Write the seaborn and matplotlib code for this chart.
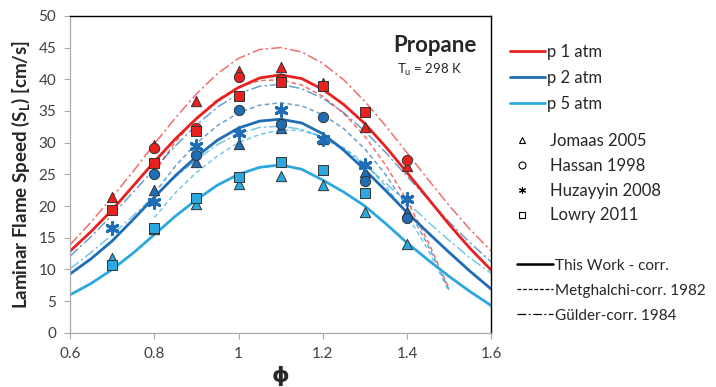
import numpy as np
import pandas as pd
import matplotlib
matplotlib.use("Agg")
import matplotlib.pyplot as plt
from matplotlib.lines import Line2D
import seaborn as sns

# --- data ---
phi_curve = [0.60, 0.65, 0.70, 0.75, 0.80, 0.85, 0.90, 0.95, 1.00, 1.05, 1.10,
             1.15, 1.20, 1.25, 1.30, 1.35, 1.40, 1.45, 1.50, 1.55, 1.60]
work_p1 = [12.9, 16.0, 19.4, 23.2, 27.0, 30.6, 33.8, 36.6, 38.7, 40.2, 40.7,
           40.1, 38.4, 36.0, 33.0, 29.3, 25.3, 21.2, 17.1, 13.3, 9.9]
work_p2 = [9.3, 11.7, 14.5, 17.9, 21.4, 24.8, 27.8, 30.4, 32.3, 33.4, 33.7,
           33.1, 31.4, 28.8, 25.7, 22.4, 19.0, 15.8, 12.7, 9.7, 6.9]
work_p5 = [6.0, 7.8, 10.0, 12.6, 15.5, 18.4, 21.0, 23.3, 25.0, 26.1, 26.5,
           25.8, 24.1, 22.2, 20.0, 17.2, 14.2, 11.5, 8.9, 6.5, 4.3]
gulder_p1 = [13.9, 17.5, 21.4, 25.5, 29.8, 33.9, 37.7, 40.9, 43.3, 44.7, 45.0,
             44.3, 42.5, 39.9, 36.5, 32.6, 28.4, 24.2, 20.1, 16.3, 12.9]
gulder_p2 = [12.1, 15.2, 18.6, 22.2, 25.9, 29.5, 32.8, 35.6, 37.7, 38.9, 39.2,
             38.5, 37.0, 34.7, 31.8, 28.4, 24.7, 21.1, 17.5, 14.2, 11.2]
gulder_p5 = [10.1, 12.7, 15.5, 18.5, 21.6, 24.6, 27.3, 29.7, 31.4, 32.4, 32.6,
             32.1, 30.8, 28.9, 26.5, 23.6, 20.6, 17.5, 14.6, 11.8, 9.4]

phi_metg = [0.80, 0.85, 0.90, 0.95, 1.00, 1.05, 1.10, 1.15, 1.20, 1.25, 1.30,
            1.35, 1.40, 1.45, 1.50]
metg_p1 = [25.3, 30.1, 33.9, 36.8, 38.8, 39.8, 39.9, 39.1, 37.3, 34.6, 31.0,
           26.4, 20.9, 14.4, 7.0]
metg_p2 = [22.0, 26.3, 29.9, 32.7, 34.7, 35.9, 36.3, 35.8, 34.4, 32.2, 29.0,
           24.9, 19.9, 13.8, 6.8]
metg_p5 = [18.2, 22.1, 25.3, 27.9, 30.0, 31.3, 32.0, 31.9, 31.0, 29.2, 26.7,
           23.1, 18.6, 13.1, 6.5]

# experiments
jomaas_p1_phi = [0.7, 0.8, 0.9, 1.0, 1.1, 1.2, 1.3, 1.4]
jomaas_p1 = [21.5, 29.7, 36.5, 41.3, 42.0, 39.4, 32.4, 26.3]
jomaas_p2_phi = [0.8, 0.9, 1.0, 1.1, 1.2, 1.3, 1.4]
jomaas_p2 = [22.6, 27.0, 29.8, 32.3, 30.5, 25.3, 19.0]
jomaas_p5_phi = [0.7, 0.8, 0.9, 1.0, 1.1, 1.2, 1.3, 1.4]
jomaas_p5 = [11.8, 16.3, 20.3, 23.5, 24.7, 23.3, 19.0, 14.0]

hassan_p1_phi = [0.8, 0.9, 1.0, 1.1, 1.4]
hassan_p1 = [29.1, 32.3, 40.4, 40.1, 27.2]
hassan_p2_phi = [0.8, 0.9, 1.0, 1.1, 1.2, 1.3, 1.4]
hassan_p2 = [25.1, 28.0, 35.1, 33.0, 34.0, 24.0, 18.1]

huzayyin_p2_phi = [0.7, 0.8, 0.9, 1.0, 1.1, 1.2, 1.3, 1.4]
huzayyin_p2 = [16.5, 20.6, 29.4, 31.5, 35.1, 30.6, 26.5, 21.1]

lowry_p1_phi = [0.7, 0.8, 0.9, 1.0, 1.1, 1.2, 1.3]
lowry_p1 = [19.4, 26.8, 31.8, 37.4, 39.5, 38.9, 34.9]
lowry_p5_phi = [0.7, 0.8, 0.9, 1.0, 1.1, 1.2, 1.3]
lowry_p5 = [10.7, 16.6, 21.2, 24.6, 27.0, 25.7, 22.1]

x_ticks = [0.6, 0.8, 1.0, 1.2, 1.4, 1.6]
x_ticklabels = ["0.6", "0.8", "1", "1.2", "1.4", "1.6"]
y_ticks = [0, 5, 10, 15, 20, 25, 30, 35, 40, 45, 50]

# --- style ---
sns.set_theme(style="white")
plt.rcParams['font.family'] = ['Lato', 'DejaVu Sans']

c1 = "#E8201E"
c2 = "#1F6DB5"
c5 = "#2BA8E0"
metg_dash = (3, 2)
guld_dash = (7, 2, 1.5, 2)

fig = plt.figure(figsize=(7.16, 3.87), dpi=100)
ax = fig.add_axes([0.098, 0.140, 0.588, 0.819])

for phi, vals, col in [(phi_curve, gulder_p1, c1), (phi_curve, gulder_p2, c2),
                       (phi_curve, gulder_p5, c5)]:
    sns.lineplot(x=phi, y=vals, ax=ax, color=col, lw=1.1, alpha=0.65,
                 dashes=False).lines[-1].set_dashes(guld_dash)
for phi, vals, col in [(phi_metg, metg_p1, c1), (phi_metg, metg_p2, c2),
                       (phi_metg, metg_p5, c5)]:
    sns.lineplot(x=phi, y=vals, ax=ax, color=col, lw=1.1, alpha=0.65,
                 dashes=False).lines[-1].set_dashes(metg_dash)
for vals, col in [(work_p1, c1), (work_p2, c2), (work_p5, c5)]:
    sns.lineplot(x=phi_curve, y=vals, ax=ax, color=col, lw=2.0)

exp_sets = [
    (jomaas_p1_phi, jomaas_p1, c1, "^"), (jomaas_p2_phi, jomaas_p2, c2, "^"),
    (jomaas_p5_phi, jomaas_p5, c5, "^"),
    (hassan_p1_phi, hassan_p1, c1, "o"), (hassan_p2_phi, hassan_p2, c2, "o"),
    (lowry_p1_phi, lowry_p1, c1, "s"), (lowry_p5_phi, lowry_p5, c5, "s"),
]
for phi, vals, col, mk in exp_sets:
    sns.scatterplot(x=phi, y=vals, ax=ax, color=col, marker=mk, s=55,
                    edgecolor="#333333", linewidth=0.7, zorder=5)
sns.scatterplot(x=huzayyin_p2_phi, y=huzayyin_p2, ax=ax, color=c2,
                marker=(6, 2, 0), s=70, linewidth=2.2, zorder=5)

ax.set_xlim(0.6, 1.6)
ax.set_ylim(0, 50)
ax.set_xticks(x_ticks)
ax.set_xticklabels(x_ticklabels)
ax.set_yticks(y_ticks)
ax.tick_params(axis="both", direction="out", length=4, width=0.8,
               color="#aaaaaa", labelsize=11, labelcolor="#404040", pad=6)
ax.tick_params(axis="both", which="both", bottom=True, left=True)
for side in ["left", "bottom"]:
    ax.spines[side].set_color("#aaaaaa")
    ax.spines[side].set_linewidth(0.9)
for side in ["top", "right"]:
    ax.spines[side].set_color("black")
    ax.spines[side].set_linewidth(1.0)

ax.set_ylabel("Laminar Flame Speed (S$_\\mathregular{L}$) [cm/s]",
              fontsize=13.5, fontweight="bold", labelpad=5)
ax.set_xlabel("ϕ", fontsize=16, fontweight="bold", labelpad=4,
              family=["DejaVu Sans"])

ax.text(0.965, 0.905, "Propane", transform=ax.transAxes, ha="right",
        va="center", fontsize=16, fontweight="bold")
ax.text(0.93, 0.83, "T$_\\mathregular{u}$ = 298 K", transform=ax.transAxes,
        ha="right", va="center", fontsize=9.5)

# legends
h_p = [Line2D([], [], color=c, lw=2) for c in (c1, c2, c5)]
leg1 = fig.legend(h_p, ["p 1 atm", "p 2 atm", "p 5 atm"], loc="upper left",
                  bbox_to_anchor=(0.700, 0.908), frameon=False, fontsize=12,
                  handlelength=2.1, handletextpad=0.15, labelspacing=0.59,
                  borderpad=0)
h_m = [Line2D([], [], ls="none", marker=m, markersize=5, markerfacecolor="white",
              markeredgecolor="black", markeredgewidth=0.8)
       for m in ("^", "o", (6, 2, 0), "s")]
leg2 = fig.legend(h_m, ["Jomaas 2005", "Hassan 1998", "Huzayyin 2008",
                        "Lowry 2011"], loc="upper left",
                  bbox_to_anchor=(0.706, 0.678), frameon=False, fontsize=12,
                  handlelength=1.0, handletextpad=1.2, labelspacing=0.53,
                  borderpad=0)
h_c = [Line2D([], [], color="black", lw=1.8),
       Line2D([], [], color="black", lw=0.9, dashes=(3, 1.5)),
       Line2D([], [], color="black", lw=0.9, dashes=guld_dash)]
leg3 = fig.legend(h_c, ["This Work - corr.", "Metghalchi-corr. 1982",
                        "Gülder-corr. 1984"], loc="upper left",
                  bbox_to_anchor=(0.712, 0.351), frameon=False, fontsize=11,
                  handlelength=2.3, handletextpad=0.15, labelspacing=0.72,
                  borderpad=0)
for lg in (leg1, leg2, leg3):
    for t in lg.get_texts():
        t.set_color("#262626")

fig.savefig("out.png", dpi=100)
